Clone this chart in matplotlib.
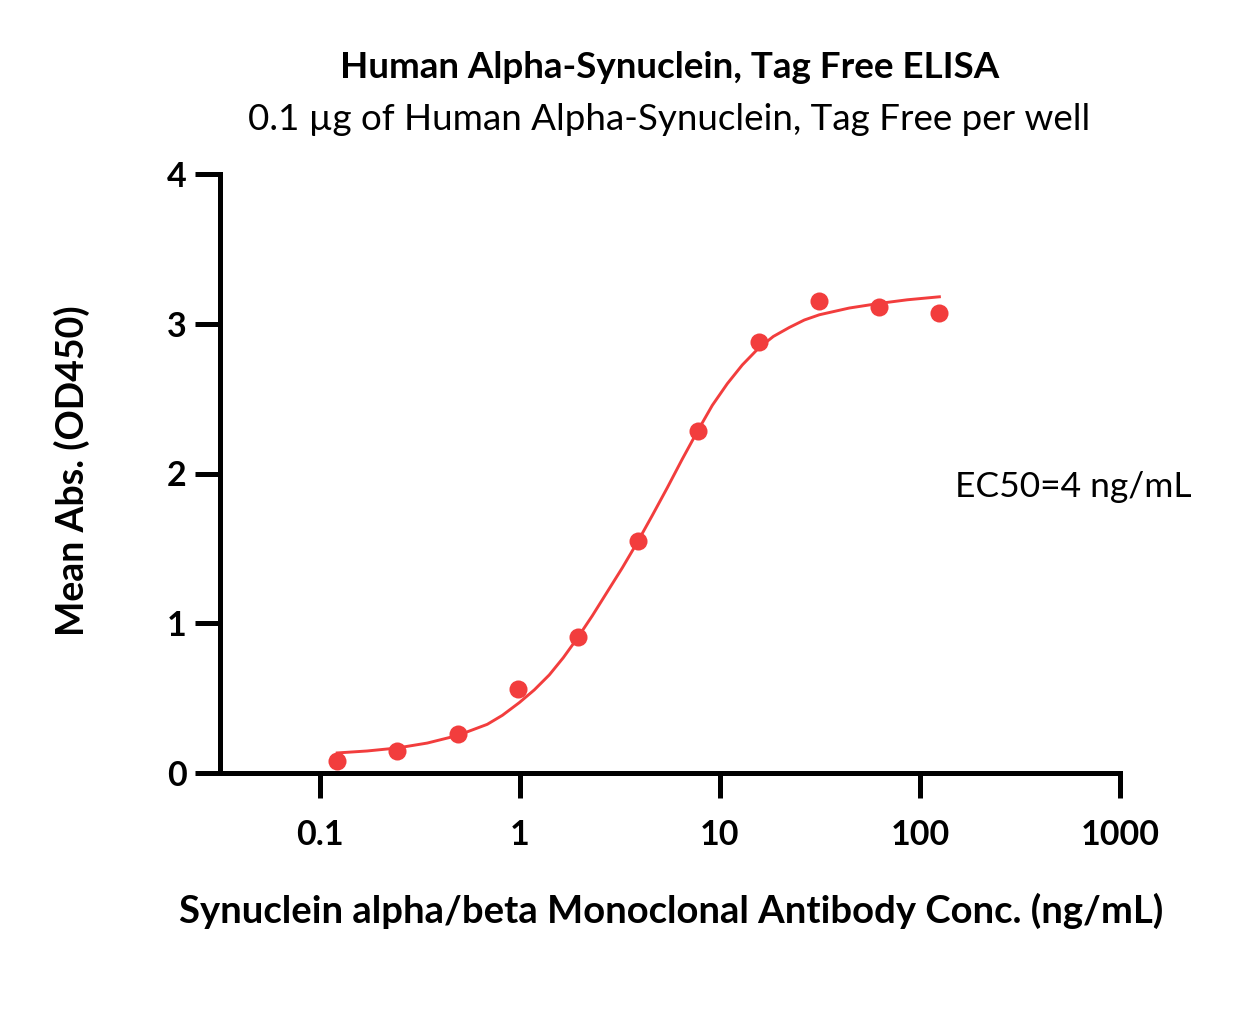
import matplotlib
matplotlib.use('Agg')
import matplotlib.pyplot as plt
from matplotlib.ticker import FixedLocator, NullLocator

plt.rcParams['font.family'] = ['Lato', 'DejaVu Sans']

# measured points
conc = [0.122, 0.244, 0.488, 0.977, 1.95, 3.9, 7.8, 15.6, 31.25, 62.5, 125]
od450 = [0.08, 0.147, 0.26, 0.561, 0.908, 1.549, 2.284, 2.878, 3.152, 3.112, 3.072]

# fitted curve
fit_conc = [0.122, 0.172, 0.2435, 0.344, 0.486, 0.686, 0.816, 0.992, 1.179, 1.401,
            1.646, 1.934, 2.299, 2.732, 3.247, 3.859, 4.586, 5.451, 6.47, 7.70,
            9.15, 10.88, 12.93, 15.54, 18.47, 22.2, 26.4, 31.4, 44.3, 61.9, 86.4, 125]
fit_od = [0.134, 0.147, 0.167, 0.200, 0.250, 0.325, 0.385, 0.470, 0.555, 0.655,
          0.770, 0.900, 1.050, 1.210, 1.370, 1.540, 1.720, 1.905, 2.095, 2.280,
          2.455, 2.600, 2.725, 2.835, 2.915, 2.975, 3.025, 3.060, 3.105, 3.135, 3.160, 3.180]

xticks = [0.1, 1, 10, 100, 1000]
xtick_labels = ['0.1', '1', '10', '100', '1000']
yticks = [0, 1, 2, 3, 4]

red = '#F23D3D'
W, H = 1245, 1029

fig = plt.figure(figsize=(W / 100, H / 100), dpi=100)
ax = fig.add_axes([220 / W, 1 - 773 / H, 900 / W, 599 / H])

ax.plot(fit_conc, fit_od, color=red, lw=2.1, zorder=2)
ax.plot(conc, od450, 'o', color=red, ms=13, mec='none', zorder=3, clip_on=False)

ax.set_xscale('log')
ax.set_xlim(10 ** -1.5, 1000)
ax.set_ylim(0, 4)
ax.xaxis.set_major_locator(FixedLocator(xticks))
ax.xaxis.set_minor_locator(NullLocator())
ax.set_xticklabels(xtick_labels)
ax.set_yticks(yticks)

for s in ['top', 'right']:
    ax.spines[s].set_visible(False)
for s in ['left', 'bottom']:
    ax.spines[s].set_linewidth(3.6)
ax.tick_params(axis='both', length=18, width=3.6, labelsize=24.5)
ax.tick_params(axis='x', pad=15)
ax.tick_params(axis='y', pad=6)
for lab in ax.get_xticklabels() + ax.get_yticklabels():
    lab.set_fontweight('bold')

fig.text(671 / W, 1 - 911 / H, 'Synuclein alpha/beta Monoclonal Antibody Conc. (ng/mL)',
         ha='center', va='center', fontsize=27.5, fontweight='bold')
fig.text(72 / W, 1 - 471 / H, 'Mean Abs. (OD450)', rotation=90,
         ha='center', va='center', fontsize=27, fontweight='bold')

fig.text(670 / W, 1 - 68 / H, 'Human Alpha-Synuclein, Tag Free ELISA',
         ha='center', va='center', fontsize=26.5, fontweight='bold')
fig.text(669 / W, 1 - 119 / H, '0.1 µg of Human Alpha-Synuclein, Tag Free per well',
         ha='center', va='center', fontsize=26.5)
fig.text(955 / W, 1 - 487 / H, 'EC50=4 ng/mL', ha='left', va='center', fontsize=25.5)

fig.savefig('out.png', dpi=100)
